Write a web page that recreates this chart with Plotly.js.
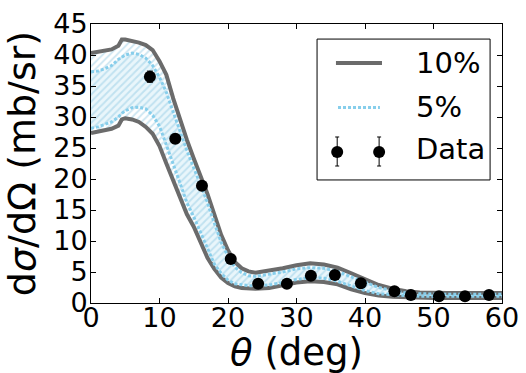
<!DOCTYPE html>
<html>
<head>
<meta charset="utf-8">
<script src="https://cdn.plot.ly/plotly-3.0.1.min.js"></script>
<style>html,body{margin:0;padding:0;background:#fff;}#chart{width:526px;height:373px;}</style>
</head>
<body>
<div id="chart"></div>
<script>
// Angle grid for the theory bands (deg)
const theta = [0,1,2,3,4,4.5,5,6,7,8,9,10,11,12,13,14,15,16,17,18,19,20,21,22,23,24,26,28,30,32,34,36,38,40,42,44,46,48,50,52,54,56,58,60];
// 10% band
const upper10 = [40.3,40.5,40.8,40.9,41.5,42.5,42.5,42.3,42.0,41.6,40.8,39.0,36.8,33.0,29.5,26.3,23.3,20.5,17.6,14.3,11.0,8.5,6.6,5.6,5.1,4.9,5.2,5.6,6.1,6.4,6.2,5.7,4.8,3.8,2.9,2.3,1.9,1.7,1.6,1.6,1.6,1.6,1.6,1.6];
const lower10 = [27.4,27.6,27.9,28.1,28.6,29.6,29.8,29.6,29.2,28.4,27.3,25.3,22.5,19.8,17.0,14.3,12.3,9.7,7.3,5.5,4.1,3.2,2.7,2.4,2.3,2.3,2.4,2.8,3.3,3.5,3.4,3.0,2.2,1.6,1.2,1.0,0.9,0.8,0.8,0.8,0.8,0.8,0.8,0.8];
// 5% band
const upper5 = [37.3,37.4,37.8,38.3,39.3,39.7,40.0,40.3,40.1,39.5,38.3,36.4,34.0,30.8,27.6,24.6,21.8,19.1,16.2,12.9,9.8,7.5,5.8,4.9,4.4,4.3,4.6,5.0,5.5,5.7,5.6,5.1,4.2,3.3,2.5,2.0,1.6,1.5,1.4,1.4,1.4,1.4,1.4,1.4];
const lower5 = [28.2,28.4,28.8,29.2,30.0,30.6,31.0,31.5,31.6,31.3,30.3,28.5,25.5,22.5,19.5,16.2,13.9,11.3,8.7,6.3,4.8,3.7,3.1,2.9,2.8,2.8,2.9,3.3,3.8,4.1,4.0,3.5,2.7,2.0,1.5,1.3,1.2,1.1,1.1,1.1,1.1,1.1,1.1,1.1];
// Measured data
const dataTheta = [8.6,12.3,16.2,20.4,24.4,28.6,32.1,35.6,39.4,44.3,46.7,50.8,54.6,58.1];
const dataXS = [36.5,26.5,18.9,7.1,3.1,3.1,4.4,4.5,3.2,1.9,1.3,1.1,1.1,1.3];
const dataErr = [0.9,0.7,0.5,0.3,0.15,0.15,0.2,0.2,0.15,0.1,0.08,0.07,0.07,0.08];
// Legend labels
const legendLabels = ['10%', '5%', 'Data'];

const gray = '#6b6b6b';
const blue = '#87ceeb';
const ff = 'DejaVu Sans, sans-serif';

const traces = [
  {x: theta, y: lower10, mode: 'lines', line: {width: 0}, showlegend: false, hoverinfo: 'skip'},
  {x: theta, y: upper10, mode: 'lines', line: {width: 0}, fill: 'tonexty', showlegend: false, hoverinfo: 'skip',
   fillcolor: 'rgba(0,0,0,0)',
   fillpattern: {shape: '/', bgcolor: 'white', fgcolor: '#cde6f2', size: 5, solidity: 0.35}},
  {x: theta, y: lower5, mode: 'lines', line: {width: 0}, showlegend: false, hoverinfo: 'skip'},
  {x: theta, y: upper5, mode: 'lines', line: {width: 0}, fill: 'tonexty', showlegend: false, hoverinfo: 'skip',
   fillcolor: 'rgba(135,206,235,0.18)'},
  {x: theta, y: upper10, mode: 'lines', name: legendLabels[0], showlegend: false, line: {color: gray, width: 4}},
  {x: theta, y: lower10, mode: 'lines', name: legendLabels[0], showlegend: false, line: {color: gray, width: 4}},
  {x: theta, y: upper5, mode: 'lines', name: legendLabels[1], showlegend: false, line: {color: blue, width: 3, dash: '3px,2px'}},
  {x: theta, y: lower5, mode: 'lines', name: legendLabels[1], showlegend: false, line: {color: blue, width: 3, dash: '3px,2px'}},
  {x: dataTheta, y: dataXS, mode: 'markers', name: legendLabels[2], showlegend: false,
   marker: {color: 'black', size: 12},
   error_y: {type: 'data', array: dataErr, visible: true, color: 'black', thickness: 1, width: 3}}
];

// Legend box drawn in paper coordinates (matplotlib-style legend with two data points)
const lgRowY = [0.860, 0.701, 0.541];
const shapes = [
  {type: 'rect', xref: 'paper', yref: 'paper', x0: 0.550, x1: 0.971, y0: 0.441, y1: 0.946,
   line: {color: 'black', width: 1}, fillcolor: 'white', layer: 'above'},
  {type: 'line', xref: 'paper', yref: 'paper', x0: 0.596, x1: 0.708, y0: lgRowY[0], y1: lgRowY[0],
   line: {color: gray, width: 4}},
  {type: 'line', xref: 'paper', yref: 'paper', x0: 0.601, x1: 0.703, y0: lgRowY[1], y1: lgRowY[1],
   line: {color: blue, width: 3, dash: '3px,2px'}}
];
[0.599, 0.701].forEach(function (lx) {
  shapes.push({type: 'line', xref: 'paper', yref: 'paper', x0: lx, x1: lx, y0: 0.491, y1: 0.595,
    line: {color: 'black', width: 1}});
  shapes.push({type: 'line', xref: 'paper', yref: 'paper', xsizemode: 'pixel', xanchor: lx, x0: -2, x1: 2,
    y0: 0.595, y1: 0.595, line: {color: 'black', width: 1}});
  shapes.push({type: 'line', xref: 'paper', yref: 'paper', xsizemode: 'pixel', xanchor: lx, x0: -2, x1: 2,
    y0: 0.491, y1: 0.491, line: {color: 'black', width: 1}});
  shapes.push({type: 'circle', xref: 'paper', yref: 'paper', xsizemode: 'pixel', ysizemode: 'pixel',
    xanchor: lx, yanchor: lgRowY[2], x0: -6, x1: 6, y0: -6, y1: 6,
    fillcolor: 'black', line: {color: 'black', width: 0}});
});
const annotations = legendLabels.map(function (t, i) {
  return {text: t, xref: 'paper', yref: 'paper', x: 0.786, y: lgRowY[i] + (i === 2 ? 0.01 : 0),
    xanchor: 'left', yanchor: 'middle', showarrow: false,
    font: {family: ff, size: 29, color: 'black'}};
});
// x-axis title placed as a paper annotation below the tick labels
annotations.push({text: '<i>θ</i> (deg)', xref: 'paper', yref: 'paper', x: 0.5, y: -0.176,
  xanchor: 'center', yanchor: 'middle', showarrow: false,
  font: {family: ff, size: 37, color: 'black'}});

const layout = {
  width: 526, height: 373,
  margin: {l: 91, r: 24, t: 24, b: 70},
  paper_bgcolor: 'white', plot_bgcolor: 'white',
  font: {family: ff, color: 'black'},
  showlegend: false,
  shapes: shapes,
  annotations: annotations,
  xaxis: {
    range: [0, 60], tickvals: [0,10,20,30,40,50,60], ticktext: ['0','10','20','30','40','50','60'],
    ticks: 'inside', ticklen: 5, tickcolor: 'black', mirror: 'allticks',
    showline: true, linecolor: 'black', linewidth: 1, showgrid: false, zeroline: false,
    tickfont: {family: ff, size: 27, color: 'black'}, ticklabelstandoff: -9,
    automargin: false
  },
  yaxis: {
    range: [0, 45], tickvals: [0,5,10,15,20,25,30,35,40,45],
    ticks: 'inside', ticklen: 5, tickcolor: 'black', mirror: 'allticks',
    showline: true, linecolor: 'black', linewidth: 1, showgrid: false, zeroline: false,
    tickfont: {family: ff, size: 27, color: 'black'}, ticklabelstandoff: -3,
    title: {text: 'd<i>σ</i>/dΩ (mb/sr)', font: {family: ff, size: 38, color: 'black'}, standoff: 6},
    automargin: false
  }
};

Plotly.newPlot('chart', traces, layout, {displayModeBar: false, staticPlot: true});
</script>
</body>
</html>
